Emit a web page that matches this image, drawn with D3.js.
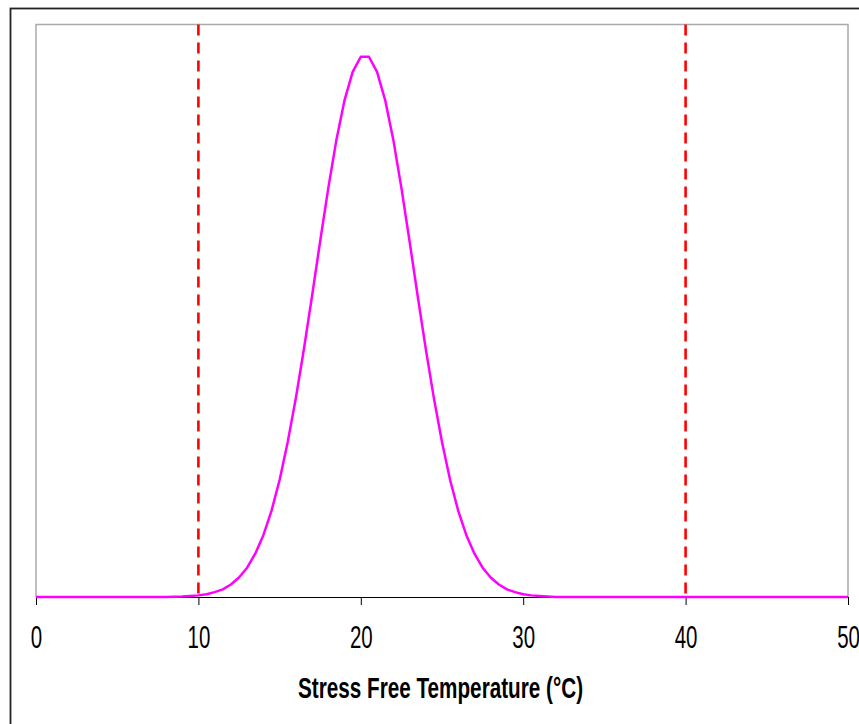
<!DOCTYPE html>
<style>
body { margin: 0; background: #fff; }
.axis .domain { stroke: #000; }
</style>
<svg width="859" height="724"></svg>
<script src="https://d3js.org/d3.v7.min.js"></script>
<script>

// stress free temperature (deg C) at 0.5 steps
var temps = [0, 8, 9, 9.5, 10, 10.5, 11, 11.5, 12, 12.5, 13, 13.5, 14, 14.5, 15, 15.5,
             16, 16.5, 17, 17.5, 18, 18.5, 19, 19.5, 20, 20.5, 21, 21.5, 22, 22.5,
             23, 23.5, 24, 24.5, 25, 25.5, 26, 26.5, 27, 27.5, 28, 28.5, 29, 29.5,
             30, 30.5, 31, 31.5, 32, 50];
// relative frequency
var freq = [0, 0, 0.001, 0.002, 0.003, 0.005, 0.009, 0.014, 0.023, 0.036, 0.054, 0.080,
            0.114, 0.159, 0.216, 0.286, 0.367, 0.458, 0.556, 0.657, 0.755, 0.844, 0.917,
            0.969, 0.997, 0.997, 0.969, 0.917, 0.844, 0.755, 0.657, 0.556, 0.458, 0.367,
            0.286, 0.216, 0.159, 0.114, 0.080, 0.054, 0.036, 0.023, 0.014, 0.009, 0.005,
            0.003, 0.002, 0.001, 0, 0];
var limits = [10, 40];
var xTicks = [0, 10, 20, 30, 40, 50];

var svg = d3.select("svg"),
    margin = {top: 24.5, right: 11, bottom: 127, left: 36},
    width = +svg.attr("width") - margin.left - margin.right,
    height = +svg.attr("height") - margin.top - margin.bottom;

// outer frame
svg.append("rect")
    .attr("x", 10.5).attr("y", 8.5)
    .attr("width", 900).attr("height", 800)
    .attr("fill", "none")
    .attr("stroke", "#222")
    .attr("stroke-width", 1.8);

var g = svg.append("g").attr("transform", "translate(" + margin.left + "," + margin.top + ")");

var x = d3.scaleLinear().domain([0, 50]).range([0, width]);
var y = d3.scaleLinear().domain([0, 1.0565]).range([height, 0]);

// plot area border (left, top, right)
g.append("path")
    .attr("d", "M0," + height + "V0H" + width + "V" + height)
    .attr("fill", "none")
    .attr("stroke", "#aaa")
    .attr("stroke-width", 1.5);

var ax = g.append("g")
    .attr("class", "axis")
    .attr("transform", "translate(0," + height + ")")
    .call(d3.axisBottom(x).tickValues(xTicks).tickSize(8).tickSizeOuter(0).tickPadding(21));

ax.selectAll("text")
    .attr("font-family", "'Liberation Sans', Arial, sans-serif")
    .attr("font-size", 31)
    .attr("fill", "#000")
    .attr("transform", "scale(0.66,1)");

g.selectAll("line.limit").data(limits).enter()
  .append("line")
    .attr("class", "limit")
    .attr("x1", function(d) { return x(d); })
    .attr("x2", function(d) { return x(d); })
    .attr("y1", 0)
    .attr("y2", height)
    .attr("stroke", "#ff0000")
    .attr("stroke-width", 2.6)
    .attr("stroke-dasharray", "11,7");

var line = d3.line()
    .x(function(d, i) { return x(temps[i]); })
    .y(function(d) { return y(d); });

g.append("path")
    .datum(freq)
    .attr("d", line)
    .attr("fill", "none")
    .attr("stroke", "#ff00ff")
    .attr("stroke-width", 2.5)
    .attr("stroke-linejoin", "round");

svg.append("text")
    .attr("transform", "translate(440.5,698) scale(0.69,1)")
    .attr("text-anchor", "middle")
    .attr("font-family", "'Liberation Sans', Arial, sans-serif")
    .attr("font-weight", "bold")
    .attr("font-size", 30)
    .text("Stress Free Temperature (°C)");

</script>
